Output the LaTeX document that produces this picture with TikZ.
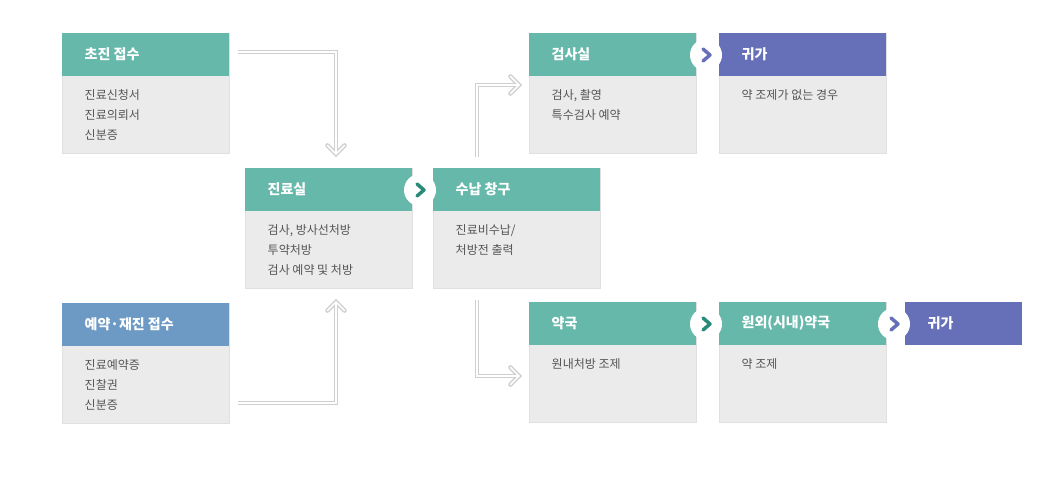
\documentclass[tikz,border=0pt]{standalone}
\usepackage{fontspec}
\setmainfont{Noto Sans CJK KR}
\definecolor{teal1}{HTML}{66B8AB}
\definecolor{purp}{HTML}{6670B8}
\definecolor{blu}{HTML}{6D9AC4}
\definecolor{bodyc}{HTML}{EBEBEB}
\definecolor{txt}{HTML}{555555}
\definecolor{chevt}{HTML}{2A8A7A}
\definecolor{linec}{HTML}{CFCFCF}
\begin{document}
\begin{tikzpicture}[x=0.75pt,y=-0.75pt,
  hdr/.style={white,font=\fontsize{10.5}{12}\selectfont\bfseries,anchor=west},
  bodytxt/.style={txt,font=\fontsize{9}{15}\selectfont,anchor=north west,align=left},
  connout/.style={draw=linec,line width=3.2pt},
  connin/.style={draw=white,line width=1.2pt},
  chev/.style={line width=2.6pt,line cap=round,line join=round}]
\useasboundingbox (0,0) rectangle (1060,484);
% box macro
\newcommand\procbox[7]{% name,x,y,color,title,body,h
  \fill[bodyc,draw=black!12] (#2,#3) rectangle ++(167,#7);
  \fill[#4] (#2,#3) rectangle ++(167,43);
  \node[hdr] (#1) at (#2+18,#3+21.5) {#5};
  \node[bodytxt] (#1b) at (#2+18,#3+52) {#6};
}
\procbox{a}{62}{33}{teal1}{초진 접수}{진료신청서\\진료의뢰서\\신분증}{120}
\procbox{b}{62}{303}{blu}{예약·재진 접수}{진료예약증\\진찰권\\신분증}{120}
\procbox{c}{245}{168}{teal1}{진료실}{검사, 방사선처방\\투약처방\\검사 예약 및 처방}{120}
\procbox{d}{433}{168}{teal1}{수납 창구}{진료비수납/\\처방전 출력}{120}
\procbox{e}{529}{33}{teal1}{검사실}{검사, 촬영\\특수검사 예약}{120}
\procbox{f}{719}{33}{purp}{귀가}{약 조제가 없는 경우}{120}
\procbox{g}{529}{302}{teal1}{약국}{원내처방 조제}{120}
\procbox{h}{719}{302}{teal1}{원외(시내)약국}{약 조제}{120}
\fill[purp] (905,302) rectangle ++(117,43);
\node[hdr] (i) at (923,323.5) {귀가};
% chevron circles
\newcommand\chevc[4]{% name,x,y,color
  \fill[white] (#2,#3) circle (16);
  \coordinate (#1) at (#2,#3);
  \draw[chev,#4] (#2-3,#3-6) -- (#2+4,#3) -- (#2-3,#3+6);
}
\chevc{k1}{420}{190}{chevt}
\chevc{k2}{706}{55}{purp}
\chevc{k3}{706}{324}{chevt}
\chevc{k4}{894}{324}{purp}
% connectors
\coordinate (s1) at (238,52); \coordinate (m1) at (336,52); \coordinate (t1) at (336,154);
\coordinate (s2) at (238,403); \coordinate (m2) at (336,403); \coordinate (t2) at (336,302);
\coordinate (s3) at (477,157); \coordinate (m3) at (477,85); \coordinate (t3) at (519,85);
\coordinate (s4) at (477,300); \coordinate (m4) at (477,376); \coordinate (t4) at (519,376);
\foreach \st in {connout,connin}{
  \draw[\st] (s1) -- (m1) -- (t1);
  \draw[\st,line cap=round] ([xshift=-6.5pt,yshift=6.5pt]t1) -- (t1) -- ([xshift=6.5pt,yshift=6.5pt]t1);
  \draw[\st] (s2) -- (m2) -- (t2);
  \draw[\st,line cap=round] ([xshift=-6.5pt,yshift=-6.5pt]t2) -- (t2) -- ([xshift=6.5pt,yshift=-6.5pt]t2);
  \draw[\st] (s3) -- (m3) -- (t3);
  \draw[\st,line cap=round] ([xshift=-6.5pt,yshift=6.5pt]t3) -- (t3) -- ([xshift=-6.5pt,yshift=-6.5pt]t3);
  \draw[\st] (s4) -- (m4) -- (t4);
  \draw[\st,line cap=round] ([xshift=-6.5pt,yshift=6.5pt]t4) -- (t4) -- ([xshift=-6.5pt,yshift=-6.5pt]t4);
}
\end{tikzpicture}
\end{document}
